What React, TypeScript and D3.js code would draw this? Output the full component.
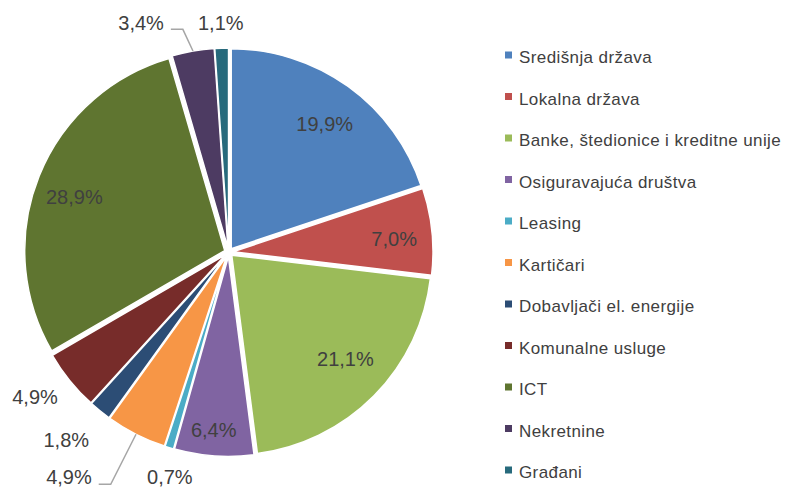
import React from 'react';
import * as d3 from 'd3';

const categories = [
  'Središnja država',
  'Lokalna država',
  'Banke, štedionice i kreditne unije',
  'Osiguravajuća društva',
  'Leasing',
  'Kartičari',
  'Dobavljači el. energije',
  'Komunalne usluge',
  'ICT',
  'Nekretnine',
  'Građani',
];
const values = [19.9, 7.0, 21.1, 6.4, 0.7, 4.9, 1.8, 4.9, 28.9, 3.4, 1.1];
const colors = [
  '#4F81BD', '#C0504D', '#9BBB59', '#8064A2', '#4BACC6', '#F79646',
  '#2C4D75', '#772C2A', '#5F7530', '#4D3B62', '#276A7C',
];
// label placement (layout): radius as fraction of pie radius, angle shift in degrees from slice middle
const labelRadius = [0.8, 0.83, 0.79, 0.89, 1.16, 1.38, 1.24, 1.21, 0.82, 1.23, 1.15];
const labelShift = [1.1, 1.3, -2.3, 0.7, -2.2, 8.4, 1.9, 2.1, -2.1, -10.8, 0];
const leaderSlices = [5, 9];

const W = 787;
const H = 488;
const cx = 228.7;
const cy = 252.2;
const R = 200;
const explode = 4.3;
const labelFont = 20;
const fontFamily = "'Liberation Sans', Arial, sans-serif";

function fmt(v: number) {
  return v.toFixed(1).replace('.', ',') + '%';
}

function measure(text: string) {
  const c = document.createElement('canvas').getContext('2d');
  if (!c) return text.length * labelFont * 0.57;
  c.font = `${labelFont}px ${fontFamily}`;
  return c.measureText(text).width;
}

export default function App() {
  const pie = d3.pie<number>().sort(null).value((d) => d).startAngle(0).endAngle(2 * Math.PI);
  const arcs = pie(values);
  const arc = d3.arc<d3.PieArcDatum<number>>().innerRadius(0).outerRadius(R);

  const legendY = d3.scaleLinear().domain([0, categories.length - 1]).range([55, 470]);

  return (
    <svg
      width={W}
      height={H}
      style={{ position: 'absolute', left: 0, top: 0, background: '#fff' }}
      fontFamily={fontFamily}
    >
      <g transform={`translate(${cx},${cy})`}>
        {arcs.map((a, i) => {
          const mid = (a.startAngle + a.endAngle) / 2;
          const ox = explode * Math.sin(mid);
          const oy = -explode * Math.cos(mid);
          return (
            <path
              key={i}
              d={arc(a) || ''}
              transform={`translate(${ox},${oy})`}
              fill={colors[i]}
              stroke="#fff"
              strokeWidth={1.5}
              strokeLinejoin="round"
            />
          );
        })}
        {arcs.map((a, i) => {
          const mid = (a.startAngle + a.endAngle) / 2;
          const ang = mid + (labelShift[i] * Math.PI) / 180;
          const rr = labelRadius[i] * R;
          const x = rr * Math.sin(ang);
          const y = -rr * Math.cos(ang);
          const text = fmt(values[i]);
          let leader = null;
          if (leaderSlices.includes(i)) {
            const w = measure(text);
            const x0 = x + w / 2 + 7;
            const x1 = x0 + 12;
            const ly = y + 7;
            const pr = R + explode;
            const px = pr * Math.sin(mid);
            const py = -pr * Math.cos(mid);
            leader = (
              <polyline
                points={`${x0},${ly} ${x1},${ly} ${px},${py}`}
                fill="none"
                stroke="#A6A6A6"
                strokeWidth={1.5}
              />
            );
          }
          return (
            <g key={`l${i}`}>
              {leader}
              <text
                x={x}
                y={y}
                dy="0.36em"
                textAnchor="middle"
                fontSize={labelFont}
                fill="#404040"
              >
                {text}
              </text>
            </g>
          );
        })}
      </g>
      <g>
        {categories.map((c, i) => (
          <g key={c} transform={`translate(505,${legendY(i)})`}>
            <rect x={0} y={-3.5} width={7} height={7} fill={colors[i]} />
            <text x={14} y={8} fontSize={17} letterSpacing={0.4} fill="#404040">
              {c}
            </text>
          </g>
        ))}
      </g>
    </svg>
  );
}
